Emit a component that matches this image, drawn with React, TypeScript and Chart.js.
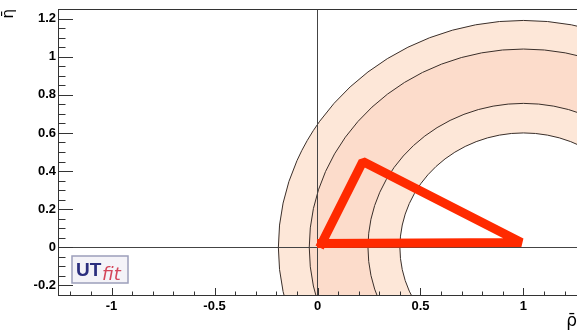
import React, { useEffect, useRef } from 'react';
import { Chart, registerables } from 'chart.js';

Chart.register(...registerables);

// Axis ranges and tick labels
const xRange = [-1.26, 1.26];
const yRange = [-0.25, 1.25];
const xTickValues = [-1, -0.5, 0, 0.5, 1];
const xTickLabels = ['-1', '-0.5', '0', '0.5', '1'];
const yTickValues = [-0.2, 0, 0.2, 0.4, 0.6, 0.8, 1, 1.2];
const yTickLabels = ['-0.2', '0', '0.2', '0.4', '0.6', '0.8', '1', '1.2'];

// Constraint rings (centre at rho = 1, eta = 0), outer to inner radius
const ringCenterRho = 1;
const ringCenterEta = 0;
const ringRadii = [1.19, 1.04, 0.755, 0.6];
const ringFills = ['#fde7d8', '#fcdccb', '#fde7d8', '#ffffff'];

// Unitarity triangle vertices (closed)
const triangleRho = [0.02, 0.22, 0.99, 0.02];
const triangleEta = [0.02, 0.45, 0.025, 0.02];

const ringsPlugin = {
  id: 'rings',
  beforeDraw(chart: any) {
    const { ctx, chartArea: a, scales } = chart;
    const xs = scales.x;
    const ys = scales.y;
    const cx = xs.getPixelForValue(ringCenterRho);
    const cy = ys.getPixelForValue(ringCenterEta);
    ctx.save();
    ctx.beginPath();
    ctx.rect(a.left, a.top, a.right - a.left, a.bottom - a.top);
    ctx.clip();
    ringRadii.forEach((r, i) => {
      const rx = xs.getPixelForValue(ringCenterRho + r) - cx;
      const ry = cy - ys.getPixelForValue(ringCenterEta + r);
      ctx.beginPath();
      ctx.ellipse(cx, cy, rx, ry, 0, 0, Math.PI * 2);
      ctx.fillStyle = ringFills[i];
      ctx.fill();
    });
    ctx.strokeStyle = '#3a2f2a';
    ctx.lineWidth = 1;
    ringRadii.forEach((r) => {
      const rx = xs.getPixelForValue(ringCenterRho + r) - cx;
      const ry = cy - ys.getPixelForValue(ringCenterEta + r);
      ctx.beginPath();
      ctx.ellipse(cx, cy, rx, ry, 0, 0, Math.PI * 2);
      ctx.stroke();
    });
    ctx.restore();
  },
};

const frameTicksPlugin = {
  id: 'frameTicks',
  afterDraw(chart: any) {
    const { ctx, chartArea: a, scales } = chart;
    const xs = scales.x;
    const ys = scales.y;
    ctx.save();
    ctx.strokeStyle = '#333';
    ctx.lineWidth = 1;
    ctx.beginPath();
    ctx.moveTo(a.left, Math.round(a.top) + 0.5);
    ctx.lineTo(a.right, Math.round(a.top) + 0.5);
    // y-axis ticks (inward), minor every 0.05
    for (let k = -5; k <= 25; k++) {
      const v = k * 0.05;
      const major = k % 4 === 0;
      const py = Math.round(ys.getPixelForValue(v)) + 0.5;
      if (py < a.top || py > a.bottom) continue;
      ctx.moveTo(a.left, py);
      ctx.lineTo(a.left + (major ? 15 : 7.5), py);
    }
    // x-axis ticks (inward), minor every 0.1
    for (let k = -12; k <= 12; k++) {
      const v = k * 0.1;
      const major = k % 5 === 0;
      const px = Math.round(xs.getPixelForValue(v)) + 0.5;
      if (px < a.left || px > a.right) continue;
      ctx.moveTo(px, a.bottom);
      ctx.lineTo(px, a.bottom - (major ? 7 : 3.5));
    }
    ctx.stroke();

    // UTfit logo
    const bx = a.left + 14;
    const by = a.bottom - 39;
    ctx.fillStyle = '#f4f3f8';
    ctx.fillRect(bx, by, 56, 27);
    ctx.strokeStyle = '#9c9fbb';
    ctx.lineWidth = 1.5;
    ctx.strokeRect(bx, by, 56, 27);
    ctx.fillStyle = '#2c2f7e';
    ctx.font = 'bold 19px "Liberation Sans", Arial, sans-serif';
    ctx.textBaseline = 'alphabetic';
    ctx.fillText('UT', bx + 4, by + 20);
    ctx.fillStyle = '#d4465a';
    ctx.font = 'italic 18px "DejaVu Sans", sans-serif';
    ctx.fillText('fit', bx + 30, by + 24);
    ctx.restore();
  },
};

export default function App() {
  const canvasRef = useRef<HTMLCanvasElement | null>(null);

  useEffect(() => {
    if (!canvasRef.current) return;
    const tickFont = { family: '"Liberation Sans", Arial, sans-serif', size: 13, weight: 'bold' as const };
    const chart = new Chart(canvasRef.current, {
      type: 'scatter',
      data: {
        datasets: [
          {
            data: triangleRho.map((x, i) => ({ x, y: triangleEta[i] })),
            showLine: true,
            borderColor: '#ff2a00',
            backgroundColor: '#ff2a00',
            borderWidth: 9,
            pointRadius: 0,
            borderJoinStyle: 'bevel',
            borderCapStyle: 'square',
            fill: false,
          },
        ],
      },
      options: {
        responsive: false,
        animation: false,
        events: [],
        layout: { padding: { top: 9, left: 0, right: 0, bottom: 0 } },
        plugins: { legend: { display: false }, tooltip: { enabled: false } },
        scales: {
          x: {
            type: 'linear',
            min: xRange[0],
            max: xRange[1],
            afterBuildTicks: (s: any) => {
              s.ticks = xTickValues.map((v) => ({ value: v }));
            },
            afterFit: (s: any) => {
              s.height = 39;
              s.paddingLeft = 0;
              s.paddingRight = 0;
            },
            ticks: {
              callback: (v: any) => xTickLabels[xTickValues.indexOf(Number(v))],
              font: tickFont,
              color: '#000',
              padding: 4,
              maxRotation: 0,
              autoSkip: false,
            },
            grid: {
              drawTicks: false,
              lineWidth: 1,
              color: (c: any) => (c.tick && c.tick.value === 0 ? '#444' : 'rgba(0,0,0,0)'),
            },
            border: { display: true, color: '#333', width: 1 },
            title: {
              display: true,
              text: 'ρ̄',
              align: 'end',
              color: '#000',
              font: { family: '"DejaVu Sans", sans-serif', size: 17 },
              padding: { top: 0, bottom: 2 },
            },
          },
          y: {
            type: 'linear',
            min: yRange[0],
            max: yRange[1],
            afterBuildTicks: (s: any) => {
              s.ticks = yTickValues.map((v) => ({ value: v }));
            },
            afterFit: (s: any) => {
              s.width = 58;
              s.paddingTop = 0;
              s.paddingBottom = 0;
            },
            ticks: {
              callback: (v: any) => yTickLabels[yTickValues.indexOf(Number(v))],
              font: tickFont,
              color: '#000',
              padding: 2,
              autoSkip: false,
            },
            grid: {
              drawTicks: false,
              lineWidth: 1,
              color: (c: any) => (c.tick && c.tick.value === 0 ? '#444' : 'rgba(0,0,0,0)'),
            },
            border: { display: true, color: '#333', width: 1 },
            title: {
              display: true,
              text: 'η̄',
              align: 'end',
              color: '#000',
              font: { family: '"DejaVu Sans", sans-serif', size: 15 },
              padding: { top: 0, bottom: 0 },
            },
          },
        },
      },
      plugins: [ringsPlugin, frameTicksPlugin],
    } as any);
    return () => chart.destroy();
  }, []);

  return (
    <div style={{ position: 'absolute', left: 0, top: 0, width: 577, height: 334, background: '#fff' }}>
      <canvas ref={canvasRef} width={577} height={334} style={{ width: 577, height: 334, display: 'block' }} />
    </div>
  );
}
